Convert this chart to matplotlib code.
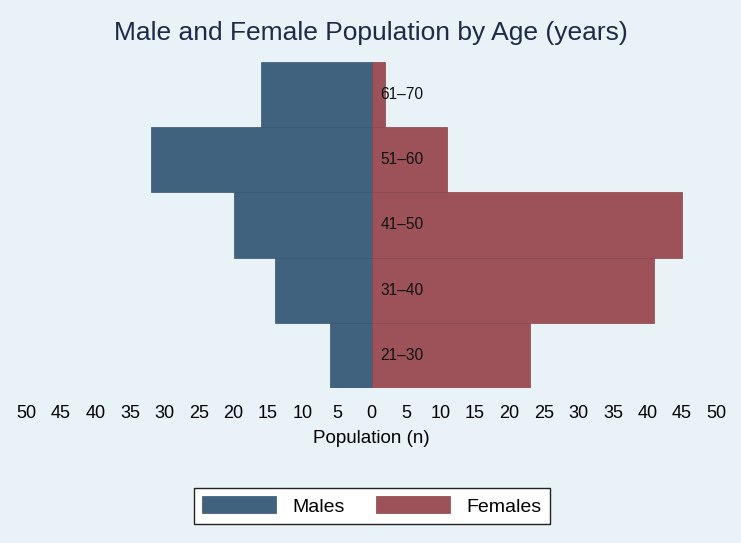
import matplotlib
matplotlib.use("Agg")
import matplotlib.pyplot as plt
import numpy as np

plt.rcParams['font.family'] = ['Liberation Sans', 'DejaVu Sans']

# age groups, bottom to top
age_groups = ["21–30", "31–40", "41–50", "51–60", "61–70"]
males = [6, 14, 20, 32, 16]
females = [23, 41, 45, 11, 2]
tick_values = list(range(-50, 55, 5))
tick_labels = [str(abs(v)) for v in tick_values]

bg = '#E8F2F7'
blue = '#41627F'
red = '#9C5258'

fig = plt.figure(figsize=(7.41, 5.43), dpi=100, facecolor=bg)
# axes placed so that -50..50 spans the same pixels as the reference
ax = fig.add_axes([26.5 / 741, (543 - 388) / 543, 690 / 741, 326 / 543])
ax.set_facecolor(bg)

y = np.arange(1, len(age_groups) + 1)
ax.barh(y, [-m for m in males], height=1.0, color=blue, edgecolor='#36546E', linewidth=0.5, label='Males')
ax.barh(y, females, height=1.0, color=red, edgecolor='#854549', linewidth=0.5, label='Females')

for yi, lab in zip(y, age_groups):
    ax.text(1.3, yi, lab, ha='left', va='center', fontsize=11.2, color='#111111')

ax.set_xlim(-50, 50)
ax.set_ylim(0.5, len(age_groups) + 0.5)
ax.set_xticks(tick_values)
ax.set_xticklabels(tick_labels, fontsize=13)
ax.set_yticks([])
ax.tick_params(axis='x', length=0, pad=12)
for s in ax.spines.values():
    s.set_visible(False)
ax.set_xlabel("Population (n)", fontsize=13.5, labelpad=6)

fig.suptitle("Male and Female Population by Age (years)", fontsize=19,
             color='#1E2A48', y=1 - 33 / 543, va='center')

leg = fig.legend(loc='center', bbox_to_anchor=(372 / 741, (543 - 506) / 543),
                 ncol=2, fontsize=14, handlelength=3.8, handleheight=0.95,
                 handletextpad=0.85, columnspacing=1.6, borderpad=0.45,
                 fancybox=False, framealpha=1, edgecolor='#222222', facecolor='white')
leg.get_frame().set_linewidth(1.0)

fig.savefig("out.png", dpi=100, facecolor=bg)
